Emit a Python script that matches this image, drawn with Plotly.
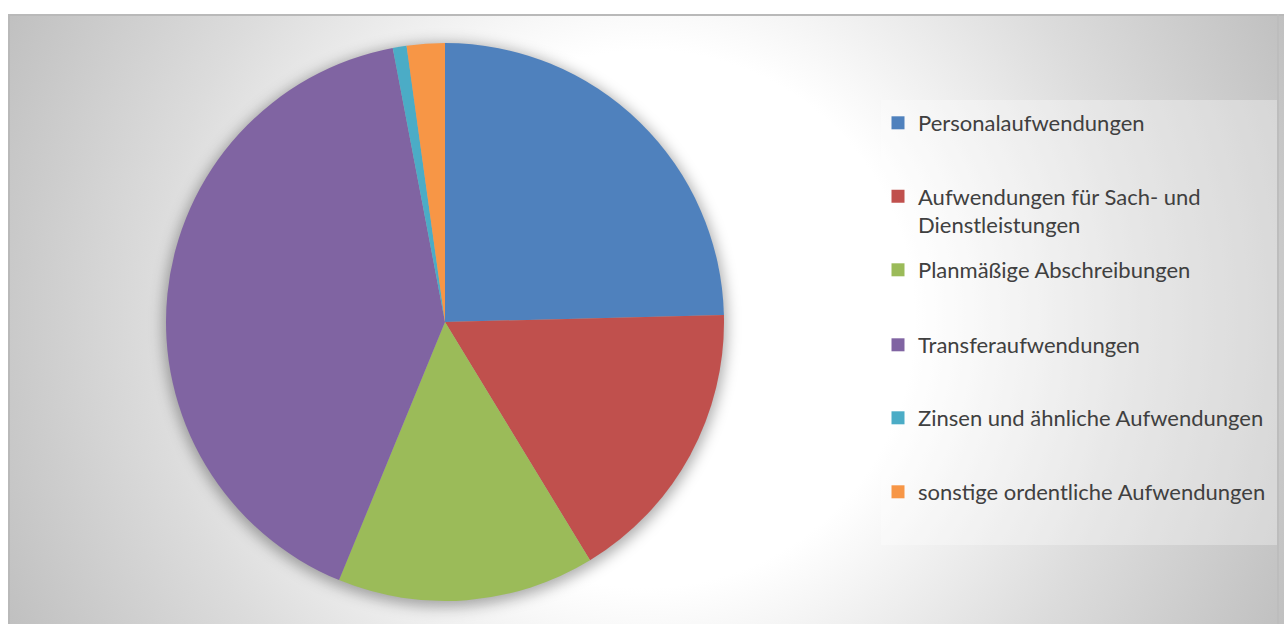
import base64
import plotly.graph_objects as go

# ---- data ----
labels = [
    "Personalaufwendungen",
    "Aufwendungen für Sach- und<br>Dienstleistungen",
    "Planmäßige Abschreibungen",
    "Transferaufwendungen",
    "Zinsen und ähnliche Aufwendungen",
    "sonstige ordentliche Aufwendungen",
]
values = [24.6, 16.7, 14.9, 40.8, 0.8, 2.2]
colors = ["#4F81BD", "#C0504D", "#9BBB59", "#8064A2", "#4BACC6", "#F79646"]

W, H = 1284, 624

# ---- background (radial gradient + soft pie shadow) ----
BW, BH = 1276, 612
svg = f'''<svg xmlns="http://www.w3.org/2000/svg" width="{BW}" height="{BH}" viewBox="0 0 {BW} {BH}" preserveAspectRatio="none">
<defs>
<radialGradient id="g" gradientUnits="userSpaceOnUse" cx="638" cy="305" r="707">
<stop offset="0" stop-color="#ffffff"/>
<stop offset="0.38" stop-color="#ffffff"/>
<stop offset="0.7" stop-color="#dcdcdc"/>
<stop offset="1" stop-color="#c0c0c0"/>
</radialGradient>
<filter id="b" x="-30%" y="-30%" width="160%" height="160%"><feGaussianBlur stdDeviation="7"/></filter>
</defs>
<rect x="0" y="0" width="{BW}" height="{BH}" fill="url(#g)"/>
<circle cx="437" cy="311" r="282" fill="#000000" fill-opacity="0.32" filter="url(#b)"/>
<path d="M1 {BH} V1 H{BW}" stroke="#b9b9b9" stroke-width="2" fill="none"/>
<path d="M1270 0 V{BH}" stroke="#bdbdbd" stroke-width="2" fill="none"/>
</svg>'''
bg_src = "data:image/svg+xml;base64," + base64.b64encode(svg.encode("utf-8")).decode("ascii")

fig = go.Figure()

cx, cy, r = 445, 322, 279
fig.add_trace(go.Pie(
    labels=labels,
    values=values,
    marker=dict(colors=colors, line=dict(width=0)),
    sort=False,
    direction="clockwise",
    rotation=0,
    textinfo="none",
    hoverinfo="label+percent",
    showlegend=False,
    domain=dict(x=[(cx - r) / W, (cx + r) / W], y=[1 - (cy + r) / H, 1 - (cy - r) / H]),
))

legend_keys = ["legend", "legend2", "legend3", "legend4", "legend5", "legend6"]
legend_centers = [123, 211, 270, 345, 418, 492]

layout_legends = {}
for lab, col, key, yc in zip(labels, colors, legend_keys, legend_centers):
    fig.add_trace(go.Scatter(
        x=[None], y=[None], mode="markers",
        marker=dict(symbol="square", size=13, color=col),
        name=lab, legend=key, showlegend=True, hoverinfo="skip",
    ))
    two_line = "<br>" in lab
    layout_legends[key] = dict(
        x=878 / W, xanchor="left",
        y=1 - yc / H, yanchor="middle",
        bgcolor="rgba(0,0,0,0)", borderwidth=0,
        font=dict(family="Lato, Carlito, Calibri, sans-serif", size=22, color="#404040"),
        valign="top" if two_line else "middle",
    )

fig.update_layout(
    width=W, height=H,
    margin=dict(l=0, r=0, t=0, b=0),
    paper_bgcolor="white",
    plot_bgcolor="rgba(0,0,0,0)",
    xaxis=dict(visible=False, domain=[0, 1]),
    yaxis=dict(visible=False, domain=[0, 1]),
    images=[dict(
        source=bg_src, xref="paper", yref="paper",
        x=8 / W, y=1 - 14 / H, sizex=BW / W, sizey=BH / H,
        xanchor="left", yanchor="top", sizing="stretch", layer="below",
    )],
    shapes=[dict(
        type="rect", xref="paper", yref="paper",
        x0=881 / W, x1=1277 / W, y0=1 - 545 / H, y1=1 - 100 / H,
        fillcolor="rgba(255,255,255,0.3)", line=dict(width=0), layer="below",
    )],
    **layout_legends,
)

fig.write_html("out.html")
